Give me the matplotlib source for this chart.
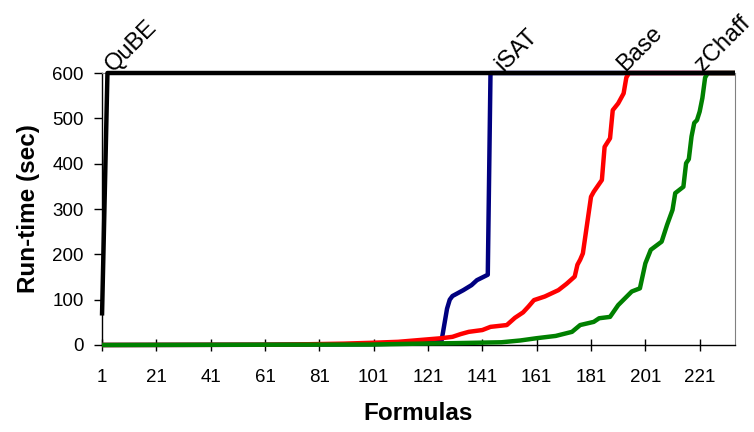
import matplotlib
matplotlib.use("Agg")
import matplotlib.pyplot as plt

plt.rcParams['font.family'] = ['Liberation Sans', 'DejaVu Sans']

# formula index / run-time (sec)
qube_x = [1, 2, 3, 234]
qube_y = [65, 330, 600, 600]

isat_x = [1, 60, 100, 120, 126, 127, 128, 129, 130, 134, 137, 139, 143, 144, 234]
isat_y = [0, 0.5, 2, 4, 10, 45, 80, 100, 108, 121, 132, 143, 155, 600, 600]

base_x = [1, 60, 70, 90, 101, 110, 118, 122, 126, 130, 133, 136, 141, 144, 150, 153, 156,
          158, 160, 164, 169, 172, 175, 176, 177, 178, 181, 182, 185, 186, 188, 189, 191,
          193, 194, 195, 234]
base_y = [0, 0.5, 1, 3, 5, 7, 11, 13, 15, 18, 24, 29, 33, 40, 44, 60, 72,
          85, 99, 107, 121, 135, 151, 177, 188, 202, 327, 338, 364, 437, 456, 518, 533,
          555, 590, 600, 600]

zchaff_x = [1, 100, 118, 130, 148, 155, 161, 168, 174, 177, 182, 184, 188, 191, 196, 199,
            201, 202, 203, 207, 209, 211, 212, 215, 216, 217, 218, 219, 220, 221, 222, 223,
            224, 234]
zchaff_y = [0, 1, 3, 4, 6, 10, 15, 20, 29, 44, 51, 59, 62, 88, 118, 125,
            180, 195, 210, 228, 265, 298, 335, 349, 401, 410, 460, 490, 496, 515, 545, 590,
            600, 600]

labels = ["QuBE", "iSAT", "Base", "zChaff"]
label_x = [6.5, 150, 195, 223.5]
xticks = list(range(1, 222, 20))
yticks = [0, 100, 200, 300, 400, 500, 600]

fig = plt.figure(figsize=(7.54, 4.32), dpi=100)
ax = fig.add_axes([0.1353, 0.2014, 0.8395, 0.6296])

line_kw = dict(lw=3.2, solid_joinstyle="round", solid_capstyle="butt", clip_on=False, zorder=3)
ax.plot(isat_x, isat_y, color="#000080", **line_kw)
ax.plot(base_x, base_y, color="#FF0000", **line_kw)
ax.plot(zchaff_x, zchaff_y, color="#008000", **line_kw)
ax.plot(qube_x, qube_y, color="black", **line_kw)

for name, lx in zip(labels, label_x):
    ax.text(lx, 594, name, rotation=45, rotation_mode="anchor", ha="left", va="bottom",
            fontsize=17, clip_on=False, zorder=4)

ax.set_xlim(1, 234)
ax.set_ylim(0, 600)
ax.set_xticks(xticks)
ax.set_yticks(yticks)
ax.tick_params(axis="x", direction="inout", length=8, width=1, labelsize=13.5, pad=13)
ax.tick_params(axis="y", direction="out", length=6, width=1, labelsize=13.5, pad=7)

for side in ["top", "right"]:
    ax.spines[side].set_color("#808080")
    ax.spines[side].set_linewidth(0.8)
for side in ["left", "bottom"]:
    ax.spines[side].set_color("black")
    ax.spines[side].set_linewidth(1)

ax.set_xlabel("Formulas", fontsize=17.5, fontweight="bold", labelpad=12)
ax.set_ylabel("Run-time (sec)", fontsize=17.5, fontweight="bold", labelpad=9)

plt.savefig("out.png", dpi=100)
